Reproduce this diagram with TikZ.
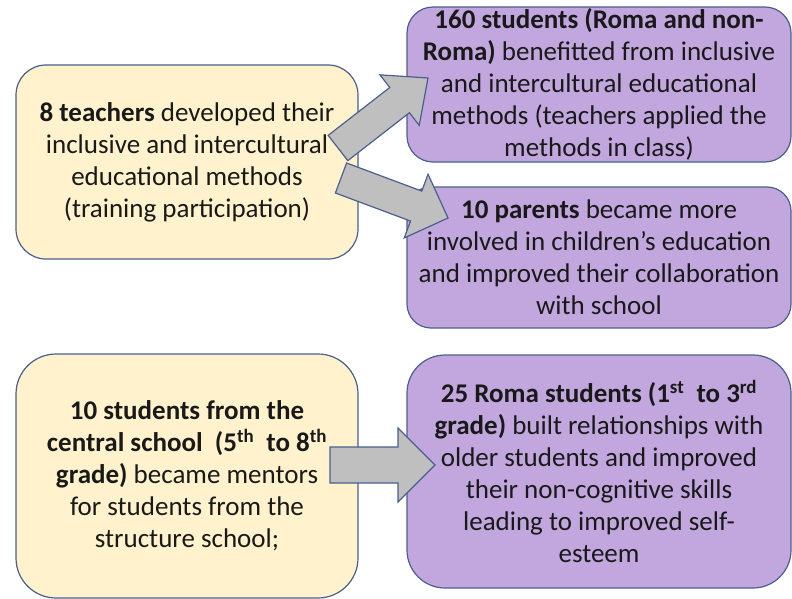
\documentclass[tikz,border=0pt]{standalone}
\usepackage{fontspec}
\setmainfont{Carlito}
\usepackage{xcolor}
\usetikzlibrary{calc}

\definecolor{cream}{HTML}{FFF2CC}
\definecolor{lilac}{HTML}{C2A7DE}
\definecolor{edgeblue}{HTML}{4A5F8E}
\definecolor{arrgray}{HTML}{BFBFBF}

\newcommand{\blockarrow}[5]{%
  \path ($(#2)!#5!(#1)$) coordinate (ba-base);
  \draw[fatarr] ($(#1)!#3!90:(#2)$) -- ($(ba-base)!#3!-90:(#1)$) -- ($(ba-base)!#4!-90:(#1)$) -- (#2)
    -- ($(ba-base)!#4!90:(#1)$) -- ($(ba-base)!#3!90:(#1)$) -- ($(#1)!#3!-90:(#2)$) -- cycle;
}

\begin{document}
\begin{tikzpicture}[x=1pt, y=-1pt,
    box/.style={draw=edgeblue, line width=1.2pt, align=center, inner sep=0pt,
      font=\fontsize{27}{32}\selectfont, text=black!90},
    inbox/.style={box, fill=cream, minimum width=342pt},
    outbox/.style={box, fill=lilac, minimum width=384pt},
    fatarr/.style={draw=edgeblue, fill=arrgray, line width=1.2pt, line join=miter}
]
\useasboundingbox (0,0) rectangle (792,599);

\node[inbox, minimum height=194pt, rounded corners=30pt] (teach) at (187,162)
  {\textbf{8 teachers} developed their\\inclusive and intercultural\\educational methods\\(training participation)};
\node[outbox, minimum height=155pt, rounded corners=26pt] (pupils) at (599,84.5)
  {\textbf{160 students (Roma and non-}\\\textbf{Roma)} benefitted from inclusive\\and intercultural educational\\methods (teachers applied the\\methods in class)};
\node[outbox, minimum height=141pt, rounded corners=24pt] (parents) at (599,257.5)
  {\textbf{10 parents} became more\\involved in children’s education\\and improved their collaboration\\with school};
\node[inbox, minimum height=244pt, rounded corners=40pt] (mentors) at (187,476)
  {\textbf{10 students from the}\\\textbf{central school\ \ (5\textsuperscript{th}\ \ to 8\textsuperscript{th}}\\\textbf{grade)} became mentors\\for students from the\\structure school;};
\node[outbox, minimum height=233pt, rounded corners=38pt] (roma) at (599,471.5)
  {\textbf{25 Roma students (1\textsuperscript{st}\ \ to 3\textsuperscript{rd}}\\\textbf{grade)} built relationships with\\older students and improved\\their non-cognitive skills\\leading to improved self-\\esteem};

% arrow ends
\coordinate (t1) at (338,148);
\coordinate (h1) at (428,78);
\coordinate (t2) at (341,178);
\coordinate (h2) at (448,218);
\coordinate (t3) at (330,465);
\coordinate (h3) at (435,465);

\blockarrow{t1}{h1}{16pt}{32pt}{36pt}
\blockarrow{t2}{h2}{16pt}{34pt}{34pt}
\blockarrow{t3}{h3}{18pt}{37pt}{37pt}
\end{tikzpicture}
\end{document}
